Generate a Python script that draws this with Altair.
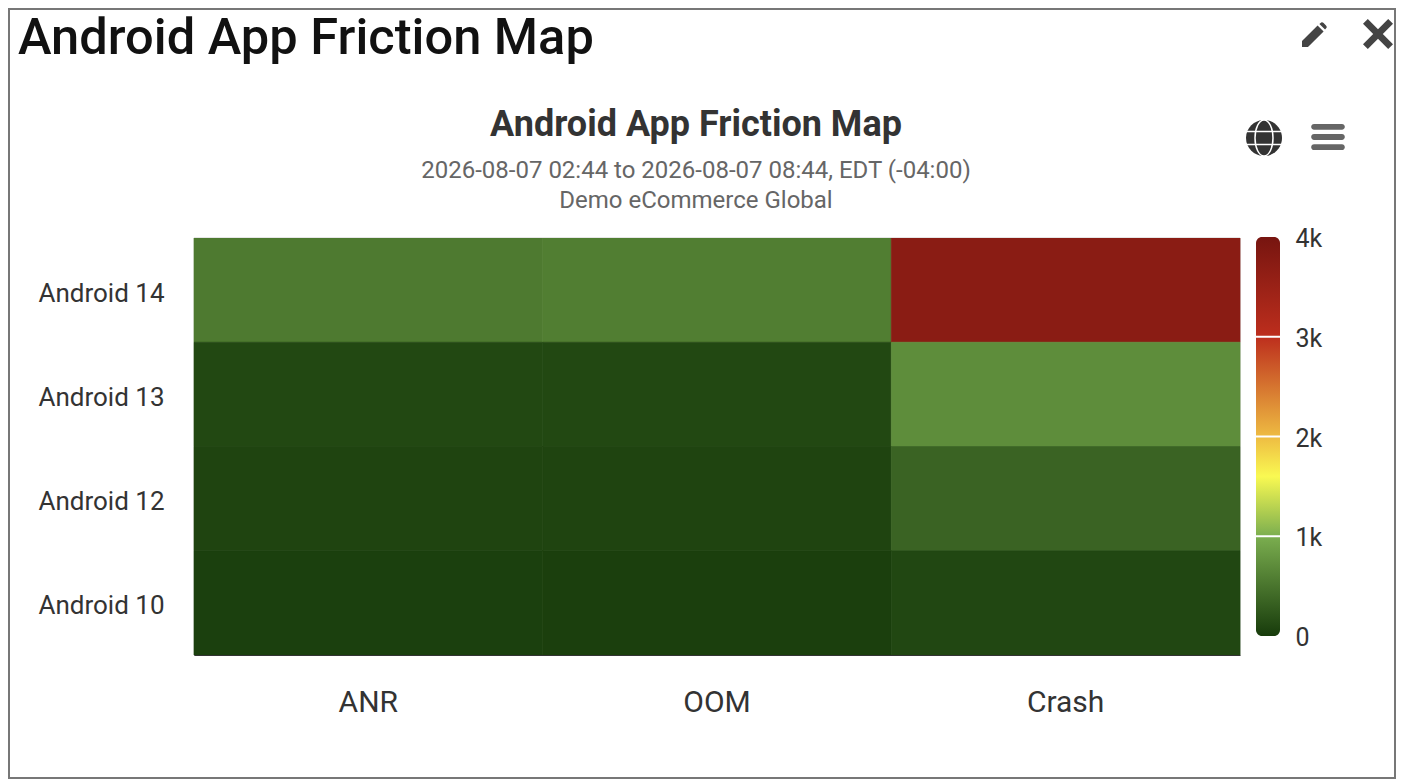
import altair as alt
import pandas as pd

rows = ["Android 14", "Android 13", "Android 12", "Android 10"]
cols = ["ANR", "OOM", "Crash"]
anr = [550, 110, 80, 40]
oom = [580, 110, 75, 35]
crash = [3730, 710, 350, 100]

stop_values = [0, 1000, 1600, 2000, 3000, 4000]
stop_colors = ["#173b0b", "#7bae4f", "#f9f952", "#eebb42", "#bd2e1d", "#771510"]
legend_ticks = [0, 1000, 2000, 3000, 4000]
separators = [1000, 2000, 3000]

TITLE = "Android App Friction Map"
SUBTITLE = ["2026-08-07 02:44 to 2026-08-07 08:44, EDT (-04:00)", "Demo eCommerce Global"]
FONT = "Roboto"
LEFT, TOP, W, H = 186, 230, 1046, 417   # svg padding and plot size
SVG_W, SVG_H = 1388, 771

cells = pd.DataFrame(
    [{"row": r, "col": c, "value": v}
     for c, series in zip(cols, [anr, oom, crash])
     for r, v in zip(rows, series)]
)


def px(x):
    return x - 8 - LEFT


def py(y):
    return y - 8 - TOP


heat_scale = alt.Scale(domain=stop_values, range=stop_colors, interpolate="rgb")
heat = alt.Chart(cells).mark_rect(strokeWidth=0.7).encode(
    x=alt.X("col:N", sort=cols, title=None, scale=alt.Scale(paddingInner=0, paddingOuter=0, round=False),
            axis=alt.Axis(orient="bottom", labelAngle=0, labelFont=FONT, labelFontSize=30, labelColor="#333333",
                          labelPadding=32, ticks=False, domain=True, domainColor="#333333", domainWidth=1)),
    y=alt.Y("row:N", sort=rows, title=None, scale=alt.Scale(paddingInner=0, paddingOuter=0, round=False),
            axis=alt.Axis(orient="left", labelFont=FONT, labelFontSize=26, labelColor="#333333",
                          labelPadding=30, labelOffset=3.5, ticks=False, domain=False)),
    color=alt.Color("value:Q", legend=None, scale=heat_scale),
    stroke=alt.Stroke("value:Q", legend=None, scale=heat_scale),
)

bar_scale = alt.Scale(domain=[0, 4000], range=[398, -1])
gradient = alt.Gradient(
    gradient="linear", x1=0, x2=0, y1=1, y2=0,
    stops=[alt.GradientStop(offset=v / 4000, color=c) for v, c in zip(stop_values, stop_colors)],
)
bar_df = pd.DataFrame({"lo": [legend_ticks[0]], "hi": [legend_ticks[-1]]})
colorbar = alt.Chart(bar_df).mark_rect(color=gradient, cornerRadius=6).encode(
    x=alt.value(px(1256)), x2=alt.value(px(1280)),
    y=alt.Y("lo:Q", scale=bar_scale, title=None,
            axis=alt.Axis(orient="right", values=legend_ticks, labelFont=FONT, labelFontSize=25,
                          labelExpr="datum.value == 0 ? '0' : (datum.value / 1000) + 'k'",
                          labelColor="#333333", ticks=False, domain=False, grid=False, labelFlush=False,
                          labelOffset=1.5, offset=46, labelPadding=9)),
    y2="hi:Q",
)
sep = alt.Chart(pd.DataFrame({"v": separators})).mark_rule(color="white", strokeWidth=2).encode(
    x=alt.value(px(1256)), x2=alt.value(px(1280)),
    y=alt.Y("v:Q", scale=bar_scale, axis=None),
)

top_line = alt.Chart(pd.DataFrame({"a": [0]})).mark_rule(color="#e6e6e6", strokeWidth=1).encode(
    x=alt.value(0), x2=alt.value(W), y=alt.value(-0.5))


def text(label, x, y, size, weight, color, align="left"):
    return alt.Chart(pd.DataFrame({"t": [label]})).mark_text(
        font=FONT, fontSize=size, fontWeight=weight, color=color, align=align, baseline="middle"
    ).encode(text="t:N", x=alt.value(px(x)), y=alt.value(py(y)))


def icon(path, x, y, d, color, filled=True, width=0):
    return alt.Chart(pd.DataFrame({"a": [0]})).mark_point(
        shape=path, size=d * d, opacity=1, filled=filled,
        **({"color": color} if filled else {"color": color, "strokeWidth": width})
    ).encode(x=alt.value(px(x)), y=alt.value(py(y)))


CROSS = "M-1,-0.68 L-0.68,-1 L0,-0.32 L0.68,-1 L1,-0.68 L0.32,0 L1,0.68 L0.68,1 L0,0.32 L-0.68,1 L-1,0.68 L-0.32,0 Z"
PENCIL = "M-1,1 L-1,0.5 L0.3,-0.8 L0.8,-0.3 L-0.5,1 Z M0.45,-0.92 L0.6,-1.05 Q0.7,-1.1 0.8,-1 L1,-0.8 Q1.1,-0.7 1.05,-0.6 L0.92,-0.45 Z"
bars = []
for c in (-0.6, 0, 0.6):
    bars.append(f"M-0.82,{c-0.17} L0.82,{c-0.17} A0.17,0.17 0 0 1 0.82,{c+0.17} L-0.82,{c+0.17} A0.17,0.17 0 0 1 -0.82,{c-0.17} Z")
MENU = " ".join(bars)
CIRCLE = "M-1,0 A1,1 0 1 1 1,0 A1,1 0 1 1 -1,0 Z"
GLOBE_LINES = "M-1,-0.36 L1,-0.36 M-1,0.36 L1,0.36 M0,-1 A0.5,1 0 0 1 0,1 A0.5,1 0 0 1 0,-1 Z"

frame = [
    alt.Chart(pd.DataFrame({"a": [0]})).mark_rule(color="#777777", strokeWidth=2).encode(
        x=alt.value(x1), x2=alt.value(x2), y=alt.value(y1), y2=alt.value(y2))
    for x1, x2, y1, y2 in [
        (-LEFT + 1, -LEFT + 1, -TOP, SVG_H - TOP),
        (SVG_W - LEFT - 1, SVG_W - LEFT - 1, -TOP, SVG_H - TOP),
        (-LEFT, SVG_W - LEFT, -TOP + 1, -TOP + 1),
        (-LEFT, SVG_W - LEFT, SVG_H - TOP - 1, SVG_H - TOP - 1),
    ]
]

layers = [heat, top_line, colorbar, sep,
          text(TITLE, 18, 39, 50.6, 500, "#111111"),
          text(TITLE, 696, 125, 36, 700, "#333333", "center"),
          text(SUBTITLE[0], 696, 171, 24, 400, "#666666", "center"),
          text(SUBTITLE[1], 696, 201, 24, 400, "#666666", "center"),
          icon(PENCIL, 1314, 35, 24, "#444444"),
          icon(CROSS, 1378, 34, 30, "#444444"),
          icon(CIRCLE, 1264, 138, 36, "#333333"),
          icon(GLOBE_LINES, 1264, 138, 36, "#ffffff", filled=False, width=1.5),
          icon(MENU, 1328, 137, 34, "#666666"),
          ] + frame

chart = alt.layer(*layers).resolve_scale(y="independent", x="independent").properties(
    width=W, height=H,
    autosize=alt.AutoSizeParams(type="none"),
    padding={"left": LEFT, "top": TOP, "right": SVG_W - LEFT - W, "bottom": SVG_H - TOP - H},
).configure_view(stroke=None).configure(background="white")

chart.save("out.html", embed_options={"renderer": "svg", "actions": False})
